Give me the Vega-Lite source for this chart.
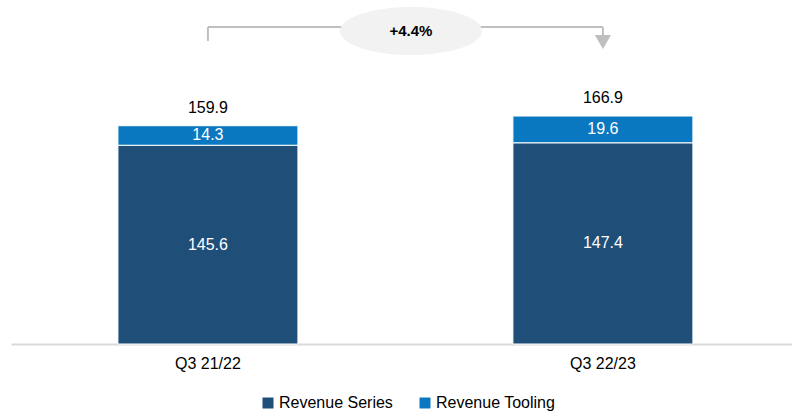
{
  "$schema": "https://vega.github.io/schema/vega-lite/v6.json",
  "autosize": "none",
  "width": 781,
  "height": 344,
  "padding": {"left": 11, "top": 0, "right": 0, "bottom": 67},
  "background": "#ffffff",
  "config": {"view": {"stroke": null}, "font": "Liberation Sans", "text": {"font": "Liberation Sans"}},
  "datasets": {
    "segments": [
      {"quarter": "Q3 21/22", "series": "Revenue Series", "value": 145.6},
      {"quarter": "Q3 21/22", "series": "Revenue Tooling", "value": 14.3},
      {"quarter": "Q3 22/23", "series": "Revenue Series", "value": 147.4},
      {"quarter": "Q3 22/23", "series": "Revenue Tooling", "value": 19.6}
    ],
    "totals": [
      {"quarter": "Q3 21/22", "total": 159.9},
      {"quarter": "Q3 22/23", "total": 166.9}
    ],
    "change": [
      {"from": "Q3 21/22", "to": "Q3 22/23", "label": "+4.4%"}
    ]
  },
  "layer": [
    {
      "data": {"name": "segments"},
      "mark": {"type": "bar", "stroke": "#ffffff", "strokeWidth": 1},
      "encoding": {
        "x": {
          "field": "quarter", "type": "nominal",
          "scale": {"paddingInner": 0.5443, "paddingOuter": 0.2608, "align": 0.519},
          "axis": {
            "title": null, "labelAngle": 0, "ticks": false,
            "domainColor": "#d9d9d9", "domainWidth": 2,
            "labelFontSize": 16, "labelColor": "#000000", "labelPadding": 11,
            "labelFont": "Liberation Sans"
          }
        },
        "y": {
          "field": "value", "type": "quantitative", "stack": "zero",
          "scale": {"domain": [0, 252], "nice": false},
          "axis": null
        },
        "order": {"field": "series", "sort": "ascending"},
        "color": {
          "field": "series", "type": "nominal",
          "scale": {"domain": ["Revenue Series", "Revenue Tooling"], "range": ["#1F4E79", "#0A78C0"]},
          "legend": {
            "title": null, "orient": "none", "direction": "horizontal",
            "legendX": 249, "legendY": 395,
            "symbolType": "square", "symbolSize": 121, "symbolStrokeWidth": 0,
            "labelFontSize": 16, "labelColor": "#000000", "labelFont": "Liberation Sans",
            "labelOffset": 3, "columnPadding": 24
          }
        }
      }
    },
    {
      "data": {"name": "segments"},
      "transform": [
        {"stack": "value", "groupby": ["quarter"], "sort": [{"field": "series", "order": "ascending"}], "as": ["v0", "v1"]},
        {"fold": ["v0", "v1"], "as": ["edge", "pos"]}
      ],
      "mark": {"type": "text", "color": "#ffffff", "fontSize": 16, "baseline": "middle"},
      "encoding": {
        "x": {"field": "quarter", "type": "nominal"},
        "y": {"aggregate": "mean", "field": "pos", "type": "quantitative"},
        "detail": {"field": "series"},
        "text": {"aggregate": "mean", "field": "value", "type": "quantitative", "format": ".1f"}
      }
    },
    {
      "data": {"name": "totals"},
      "mark": {"type": "text", "color": "#000000", "fontSize": 16, "baseline": "middle", "dy": -18},
      "encoding": {
        "x": {"field": "quarter", "type": "nominal"},
        "y": {"field": "total", "type": "quantitative"},
        "text": {"field": "total", "type": "quantitative", "format": ".1f"}
      }
    },
    {
      "data": {"name": "change"},
      "mark": {"type": "rule", "color": "#bfbfbf", "strokeWidth": 2},
      "encoding": {
        "x": {"field": "from", "type": "nominal"},
        "y": {"datum": 232.2},
        "y2": {"datum": 222}
      }
    },
    {
      "data": {"name": "change"},
      "mark": {"type": "rule", "color": "#bfbfbf", "strokeWidth": 2},
      "encoding": {
        "x": {"field": "to", "type": "nominal"},
        "y": {"datum": 232.2},
        "y2": {"datum": 226}
      }
    },
    {
      "data": {"name": "change"},
      "mark": {"type": "rule", "color": "#bfbfbf", "strokeWidth": 2},
      "encoding": {
        "x": {"field": "from", "type": "nominal"},
        "x2": {"field": "to"},
        "y": {"datum": 232.2}
      }
    },
    {
      "data": {"name": "change"},
      "mark": {"type": "point", "shape": "triangle-down", "filled": true, "color": "#bfbfbf", "size": 260, "opacity": 1},
      "encoding": {
        "x": {"field": "to", "type": "nominal"},
        "y": {"datum": 221.3}
      }
    },
    {
      "data": {"name": "change"},
      "mark": {"type": "point", "shape": "M -1 0 A 1 0.338 0 1 0 1 0 A 1 0.338 0 1 0 -1 0 Z", "filled": true, "color": "#f2f2f2", "size": 20164, "opacity": 1},
      "encoding": {
        "x": {"field": "from", "type": "nominal", "bandPosition": 1.628},
        "y": {"datum": 229.3}
      }
    },
    {
      "data": {"name": "change"},
      "mark": {"type": "text", "color": "#000000", "fontSize": 15, "fontWeight": "bold", "baseline": "middle"},
      "encoding": {
        "x": {"field": "from", "type": "nominal", "bandPosition": 1.628},
        "y": {"datum": 229.3},
        "text": {"field": "label"}
      }
    }
  ]
}
